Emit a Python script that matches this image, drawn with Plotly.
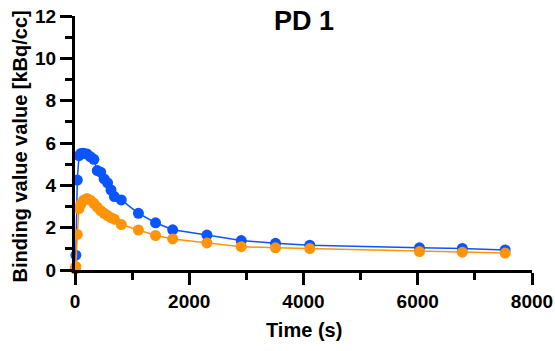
import plotly.graph_objects as go

time_s = [5, 15, 40, 70, 100, 150, 210, 270, 330, 390, 450, 510, 570, 630, 690, 810,
          1110, 1410, 1710, 2310, 2910, 3510, 4110, 6030, 6780, 7530]
blue_vals = [0.05, 0.7, 4.25, 5.4, 5.5, 5.52, 5.48, 5.35, 5.23, 4.7, 4.62, 4.3, 4.12, 3.78, 3.47, 3.31,
             2.68, 2.23, 1.9, 1.65, 1.39, 1.26, 1.17, 1.05, 1.02, 0.95]
orange_vals = [0.05, 0.16, 1.68, 2.9, 3.1, 3.3, 3.38, 3.3, 3.15, 2.97, 2.8, 2.68, 2.57, 2.47, 2.4, 2.15,
               1.89, 1.63, 1.47, 1.28, 1.1, 1.05, 1.01, 0.87, 0.84, 0.8]
x_ticks = [0, 2000, 4000, 6000, 8000]
y_ticks = [0, 2, 4, 6, 8, 10, 12]

BLUE = "#0a55ff"
ORANGE = "#ff9408"
FONT = "Liberation Sans, Arial, sans-serif"

fig = go.Figure()
fig.add_trace(go.Scatter(x=time_s, y=blue_vals, mode="lines+markers",
                         line=dict(color=BLUE, width=1.5),
                         marker=dict(color=BLUE, size=11), cliponaxis=False,
                         showlegend=False))
fig.add_trace(go.Scatter(x=time_s, y=orange_vals, mode="lines+markers",
                         line=dict(color=ORANGE, width=1.5),
                         marker=dict(color=ORANGE, size=11), cliponaxis=False,
                         showlegend=False))

axis_common = dict(showline=True, linecolor="black", linewidth=3, ticks="outside",
                   ticklen=12, tickwidth=3, tickcolor="black", showgrid=False,
                   zeroline=False, automargin=False, ticklabeloverflow="allow",
                   tickfont=dict(family=FONT, size=19, color="black", weight="bold"))

fig.update_xaxes(range=[0, 8000], tickvals=x_ticks, ticktext=[f"<b>{v}</b>" for v in x_ticks],
                 minor=dict(tickvals=[1000, 3000, 5000, 7000], ticks="outside", ticklen=7,
                            tickwidth=3, tickcolor="black"),
                 **axis_common)
fig.update_yaxes(range=[0, 12], tickvals=y_ticks, ticktext=[f"<b>{v}</b>" for v in y_ticks],
                 minor=dict(tickvals=[1, 3, 5, 7, 9, 11], ticks="outside", ticklen=7,
                            tickwidth=3, tickcolor="black"),
                 **axis_common)

title_font = dict(family=FONT, size=20, color="black")
fig.add_annotation(text="<b>Time (s)</b>", x=0.5, y=(270 - 330) / 254, xref="paper", yref="paper",
                   xanchor="center", yanchor="middle", showarrow=False, font=title_font)
fig.add_annotation(text="<b>Binding value value [kBq/cc]</b>", x=(19 - 74.5) / 457.5,
                   y=(270 - 147) / 254, xref="paper", yref="paper", textangle=-90,
                   xanchor="center", yanchor="middle", showarrow=False, font=title_font)
fig.add_annotation(text="<b>PD 1</b>", x=0.5, y=(270 - 21) / 254, xref="paper", yref="paper",
                   xanchor="center", yanchor="middle", showarrow=False,
                   font=dict(family=FONT, size=27, color="black"))

fig.update_layout(width=555, height=351,
                  margin=dict(l=74.5, r=23, t=16, b=81),
                  plot_bgcolor="white", paper_bgcolor="white")

fig.write_html("out.html", config={"displayModeBar": False},
               post_script="document.body.style.margin='0';document.body.style.overflow='hidden';")
